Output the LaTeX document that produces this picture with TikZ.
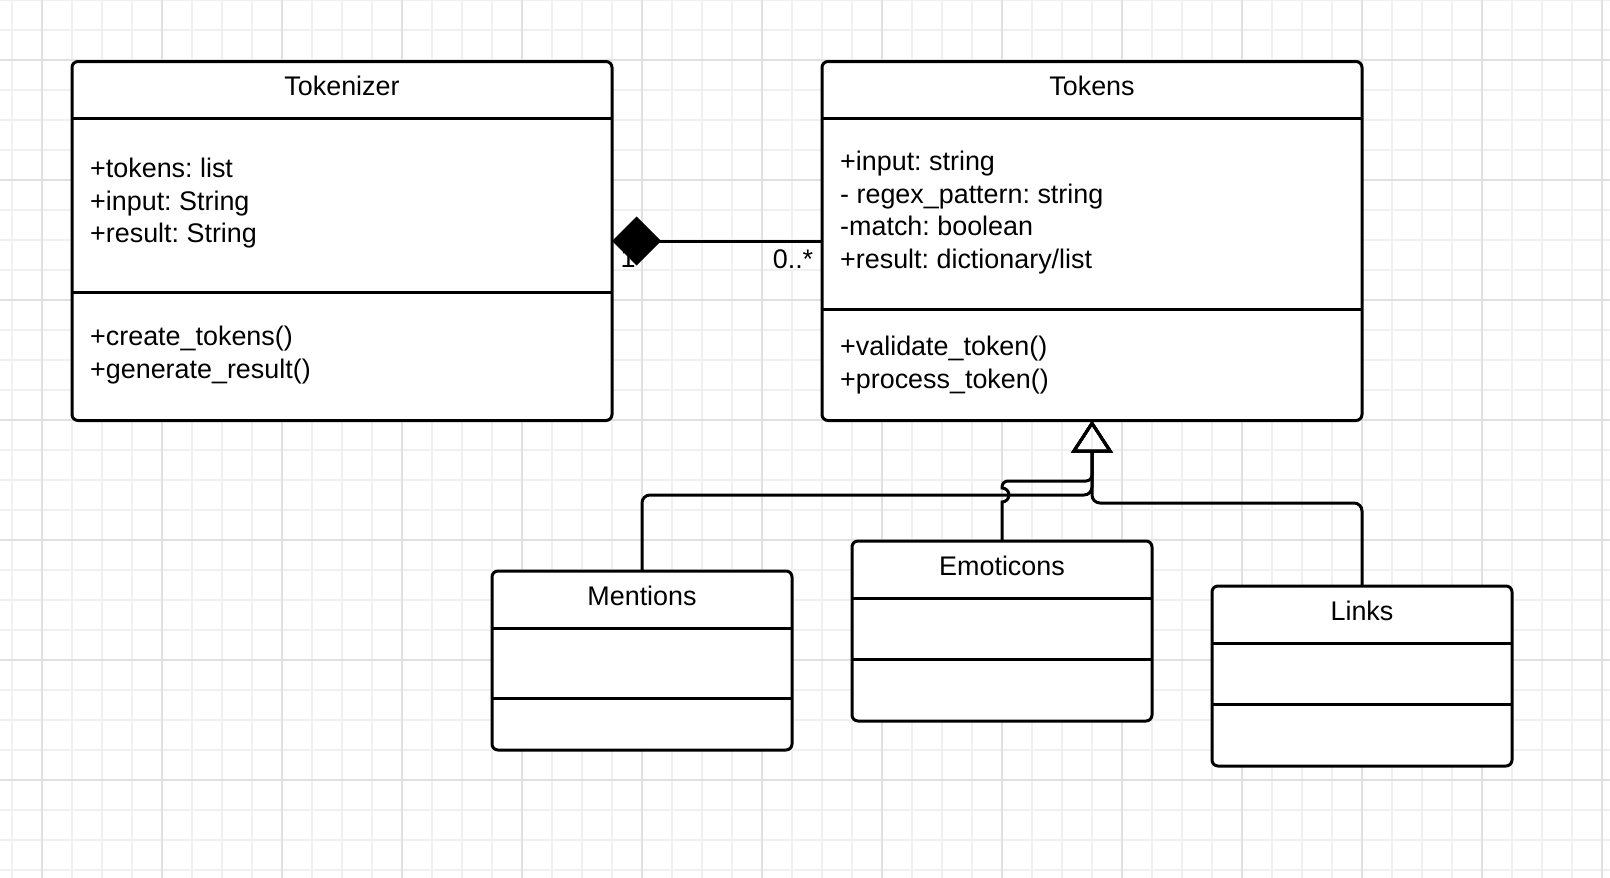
\documentclass[tikz,border=0pt]{standalone}
\usepackage{fontspec}
\setmainfont{Liberation Sans}
\usetikzlibrary{arrows.meta,positioning}
\frenchspacing

\begin{document}
\begin{tikzpicture}[x=1pt,y=-1pt,font=\fontsize{26.9}{32.5}\selectfont]
  \tikzstyle{minor line}=[line width=2pt,draw=black!6]
  \tikzstyle{major line}=[line width=2pt,draw=black!12]
  \tikzstyle{class box}=[draw,line width=3pt,rounded corners=6pt,fill=white,
                         inner sep=0pt,outer sep=0pt,anchor=north west]
  \tikzstyle{compart}=[line width=3pt]
  \tikzstyle{class name}=[anchor=base,inner sep=0pt]
  \tikzstyle{members}=[anchor=base west,align=left,inner sep=0pt]
  \tikzstyle{mult}=[anchor=base,inner sep=0pt]
  \tikzstyle{compose}=[line width=3pt,{Diamond[length=49pt,width=49pt]}-]
  \tikzstyle{inherit}=[line width=3pt,rounded corners=8pt,
                       -{Triangle[open,length=32pt,width=41pt]}]

  \useasboundingbox (0,0) rectangle (1610,878);
  % background grid
  \foreach \x in {12,42,...,1602} \draw[minor line] (\x,0) -- (\x,878);
  \foreach \y in {0,30,...,870} \draw[minor line] (0,\y) -- (1610,\y);
  \foreach \x in {42,162,...,1602} \draw[major line] (\x,0) -- (\x,878);
  \foreach \y in {60,180,...,780} \draw[major line] (0,\y) -- (1610,\y);

  % classes
  \node[class box,minimum width=540pt,minimum height=359pt] (tokenizer) at (72,61.5) {};
  \node[class box,minimum width=540pt,minimum height=359pt,right=210pt of tokenizer] (tokens) {};
  \node[class box,minimum width=300pt,minimum height=179pt] (mentions) at (492,571) {};
  \node[class box,minimum width=300pt,minimum height=180pt] (emoticons) at (852,541) {};
  \node[class box,minimum width=300pt,minimum height=180pt] (links) at (1212,586) {};

  \draw[compart] (tokenizer.west |- 0,118) -- (tokenizer.east |- 0,118);
  \draw[compart] (tokenizer.west |- 0,292) -- (tokenizer.east |- 0,292);
  \draw[compart] (tokens.west |- 0,118) -- (tokens.east |- 0,118);
  \draw[compart] (tokens.west |- 0,309) -- (tokens.east |- 0,309);
  \draw[compart] (mentions.west |- 0,628) -- (mentions.east |- 0,628);
  \draw[compart] (mentions.west |- 0,698) -- (mentions.east |- 0,698);
  \draw[compart] (emoticons.west |- 0,598) -- (emoticons.east |- 0,598);
  \draw[compart] (emoticons.west |- 0,659) -- (emoticons.east |- 0,659);
  \draw[compart] (links.west |- 0,643) -- (links.east |- 0,643);
  \draw[compart] (links.west |- 0,704) -- (links.east |- 0,704);

  \node[class name] (tokenizer-name) at (tokenizer.north |- 0,95) {Tokenizer};
  \node[class name] (tokens-name) at (tokens.north |- 0,95) {Tokens};
  \node[class name] (mentions-name) at (mentions.north |- 0,605) {Mentions};
  \node[class name] (emoticons-name) at (emoticons.north |- 0,575) {Emoticons};
  \node[class name] (links-name) at (links.north |- 0,620) {Links};

  % member lists (placed at the baseline of their last line)
  \node[members] (tokenizer-attrs) at (90,242.5) {+tokens: list\\+input: String\\+result: String};
  \node[members] (tokenizer-ops) at (90,378) {+create\_tokens()\\+generate\_result()};
  \node[members] (tokens-attrs) at (840,268)
    {+input: string\\- regex\_pattern: string\\-match: boolean\\+result: dictionary/list};
  \node[members] (tokens-ops) at (840,388) {+validate\_token()\\+process\_token()};

  % composition
  \node[mult] (one) at (628,267) {1};
  \node[mult] (many) at (793,268) {0..*};
  \draw[compose] (tokenizer.east |- 0,241) -- (tokens.west |- 0,241);

  % generalization
  \draw[inherit] (mentions.north) -- (mentions.north |- 0,495)
    -- (tokens.south |- 0,495) -- (tokens.south);
  \draw[inherit] (emoticons.north) [sharp corners] -- (emoticons.north |- 0,502)
    arc[start angle=-90,end angle=90,radius=7pt] [rounded corners=6pt]
    -- (emoticons.north |- 0,481) -- (tokens.south |- 0,481) -- (tokens.south);
  \draw[inherit] (links.north) -- (links.north |- 0,503)
    -- (tokens.south |- 0,503) -- (tokens.south);
\end{tikzpicture}
\end{document}
